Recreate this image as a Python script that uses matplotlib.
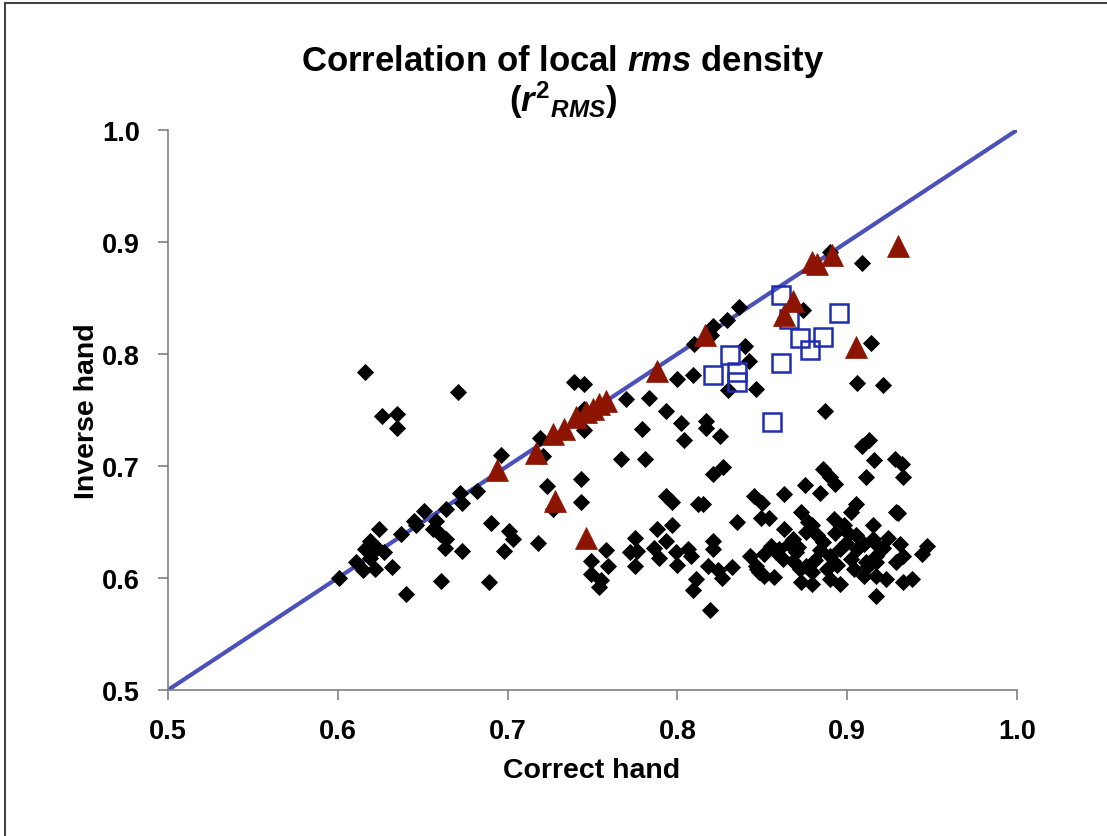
import matplotlib.pyplot as plt
from matplotlib.lines import Line2D

plt.rcParams["font.family"] = ["Liberation Sans", "DejaVu Sans"]
plt.rcParams["mathtext.fontset"] = "custom"
plt.rcParams["mathtext.rm"] = "Liberation Sans:bold"
plt.rcParams["mathtext.it"] = "Liberation Sans:bold:italic"
plt.rcParams["mathtext.bf"] = "Liberation Sans:bold"

# black diamonds (all points)
diamond_x = [0.616, 0.671, 0.626, 0.635, 0.635, 0.696, 0.672, 0.682, 0.673, 0.651,
             0.664, 0.645, 0.646, 0.658, 0.656, 0.660, 0.664, 0.663, 0.673, 0.637,
             0.624, 0.619, 0.616, 0.623, 0.627, 0.611, 0.615, 0.622, 0.632, 0.619,
             0.601, 0.640, 0.661, 0.689, 0.690, 0.701, 0.703, 0.698,
             0.739, 0.745, 0.719, 0.721, 0.745, 0.745, 0.770, 0.783, 0.800, 0.809,
             0.793, 0.779, 0.802, 0.804, 0.817, 0.817, 0.825, 0.767, 0.781, 0.821,
             0.827, 0.723, 0.743, 0.743, 0.727, 0.793, 0.797, 0.812, 0.815, 0.718,
             0.758, 0.749, 0.759, 0.749, 0.755, 0.754, 0.775, 0.772, 0.776, 0.775,
             0.788, 0.797, 0.793, 0.786, 0.789, 0.799, 0.800, 0.806, 0.808, 0.811,
             0.809, 0.819, 0.821, 0.821, 0.818, 0.824, 0.826,
             0.836, 0.829, 0.821, 0.820, 0.810, 0.840, 0.842, 0.830, 0.846, 0.874,
             0.890, 0.909, 0.914, 0.906, 0.921, 0.887,
             0.909, 0.913, 0.916, 0.928, 0.932, 0.911, 0.933, 0.886, 0.890, 0.893,
             0.875, 0.884, 0.863, 0.929, 0.905, 0.902, 0.873, 0.892, 0.915, 0.879,
             0.845, 0.850, 0.835, 0.849, 0.854, 0.863, 0.877, 0.882, 0.886, 0.876,
             0.898, 0.901, 0.905, 0.915, 0.896, 0.890, 0.855, 0.858, 0.851, 0.862,
             0.868, 0.870, 0.868, 0.876, 0.879, 0.872, 0.843, 0.846, 0.848, 0.857,
             0.832, 0.873, 0.879, 0.888, 0.890, 0.896, 0.894, 0.902, 0.904, 0.910,
             0.912, 0.917, 0.917, 0.847, 0.851,
             0.930, 0.916, 0.924, 0.931, 0.947, 0.944, 0.911, 0.917, 0.929, 0.933,
             0.917, 0.923, 0.933, 0.938,
             0.860, 0.866, 0.884, 0.899, 0.906, 0.881, 0.910, 0.921, 0.871, 0.893]
diamond_y = [0.784, 0.766, 0.745, 0.746, 0.734, 0.710, 0.676, 0.678, 0.667, 0.660,
             0.662, 0.651, 0.647, 0.651, 0.644, 0.639, 0.635, 0.627, 0.624, 0.639,
             0.644, 0.633, 0.626, 0.627, 0.623, 0.614, 0.607, 0.608, 0.610, 0.618,
             0.600, 0.586, 0.597, 0.596, 0.649, 0.642, 0.635, 0.624,
             0.775, 0.773, 0.725, 0.709, 0.732, 0.751, 0.760, 0.761, 0.778, 0.781,
             0.749, 0.733, 0.738, 0.723, 0.740, 0.734, 0.727, 0.706, 0.706, 0.693,
             0.699, 0.682, 0.688, 0.668, 0.662, 0.673, 0.668, 0.666, 0.666, 0.631,
             0.625, 0.615, 0.611, 0.604, 0.598, 0.592, 0.636, 0.623, 0.624, 0.611,
             0.644, 0.647, 0.633, 0.627, 0.618, 0.623, 0.612, 0.626, 0.620, 0.599,
             0.589, 0.571, 0.633, 0.626, 0.611, 0.607, 0.600,
             0.842, 0.830, 0.825, 0.817, 0.809, 0.807, 0.794, 0.768, 0.769, 0.839,
             0.891, 0.881, 0.810, 0.774, 0.772, 0.749,
             0.718, 0.723, 0.705, 0.706, 0.702, 0.690, 0.690, 0.697, 0.690, 0.684,
             0.683, 0.676, 0.675, 0.659, 0.666, 0.659, 0.659, 0.653, 0.647, 0.647,
             0.673, 0.667, 0.650, 0.654, 0.654, 0.644, 0.650, 0.638, 0.632, 0.641,
             0.647, 0.639, 0.638, 0.635, 0.626, 0.620, 0.629, 0.623, 0.621, 0.617,
             0.635, 0.623, 0.615, 0.611, 0.605, 0.608, 0.620, 0.611, 0.605, 0.601,
             0.610, 0.596, 0.595, 0.608, 0.599, 0.595, 0.612, 0.617, 0.608, 0.602,
             0.611, 0.620, 0.584, 0.608, 0.602,
             0.658, 0.632, 0.636, 0.630, 0.629, 0.621, 0.614, 0.614, 0.614, 0.620,
             0.602, 0.599, 0.596, 0.599,
             0.626, 0.630, 0.625, 0.631, 0.626, 0.616, 0.630, 0.627, 0.628, 0.640]

# open blue squares
square_x = [0.861, 0.866, 0.895, 0.872, 0.886, 0.878, 0.831, 0.821, 0.835, 0.835, 0.861, 0.856]
square_y = [0.853, 0.831, 0.837, 0.814, 0.815, 0.804, 0.799, 0.781, 0.784, 0.775, 0.792, 0.739]

# red triangles
triangle_x = [0.694, 0.717, 0.728, 0.727, 0.733, 0.740, 0.746, 0.750, 0.754, 0.758,
              0.746, 0.788, 0.816, 0.863, 0.868, 0.879, 0.882, 0.891, 0.905, 0.930]
triangle_y = [0.696, 0.712, 0.669, 0.729, 0.733, 0.744, 0.748, 0.751, 0.755, 0.758,
              0.636, 0.785, 0.817, 0.835, 0.847, 0.882, 0.880, 0.888, 0.806, 0.896]

ticks = [0.5, 0.6, 0.7, 0.8, 0.9, 1.0]
tick_labels = ["0.5", "0.6", "0.7", "0.8", "0.9", "1.0"]

fig = plt.figure(figsize=(11.07, 8.37), dpi=100)
ax = fig.add_axes([168/1107, 146/837, 849/1107, 560/837])

ax.plot([0.5, 1.0], [0.5, 1.0], color="#4b51b8", linewidth=3, zorder=2, solid_capstyle="butt")
ax.plot(diamond_x, diamond_y, "D", color="black", markersize=8.3, markeredgewidth=0.6, zorder=3)
ax.plot(square_x, square_y, "s", markerfacecolor="none", markeredgecolor="#1f2eb0",
        markersize=12.5, markeredgewidth=1.8, zorder=4)
ax.plot(triangle_x, triangle_y, "^", color="#8c1400", markersize=15.5, markeredgewidth=0.5, zorder=5)

ax.set_xlim(0.5, 1.0)
ax.set_ylim(0.5, 1.0)
ax.set_xticks(ticks)
ax.set_yticks(ticks)
ax.set_xticklabels(tick_labels)
ax.set_yticklabels(tick_labels)

for s in ["top", "right"]:
    ax.spines[s].set_visible(False)
for s in ["left", "bottom"]:
    ax.spines[s].set_color("#808080")
    ax.spines[s].set_linewidth(1.2)
ax.tick_params(direction="out", length=7, width=1.2, color="#808080",
               labelsize=19.5, pad=13)
for lab in ax.get_xticklabels() + ax.get_yticklabels():
    lab.set_fontweight("bold")

fig.text(592/1107, 1 - 771/837, "Correct hand", ha="center", va="center",
         fontsize=20.5, fontweight="bold")
fig.text(87/1107, 1 - 411/837, "Inverse hand", ha="center", va="center",
         fontsize=20.5, fontweight="bold", rotation=90)

fig.text(563/1107, 1 - 62/837, r"Correlation of local $rms$ density", ha="center", va="center",
         fontsize=25, fontweight="bold")
fig.text(563/1107, 1 - 100/837, r"$(r^{2}{}_{RMS})$", ha="center", va="center",
         fontsize=25, fontweight="bold")

# chart frame (top and left edges)
fig.add_artist(Line2D([5/1107, 1.0], [1 - 4/837, 1 - 4/837], color="#444444", linewidth=1.5))
fig.add_artist(Line2D([5/1107, 5/1107], [0.0, 1 - 4/837], color="#444444", linewidth=1.5))

fig.savefig("out.png", dpi=100)
